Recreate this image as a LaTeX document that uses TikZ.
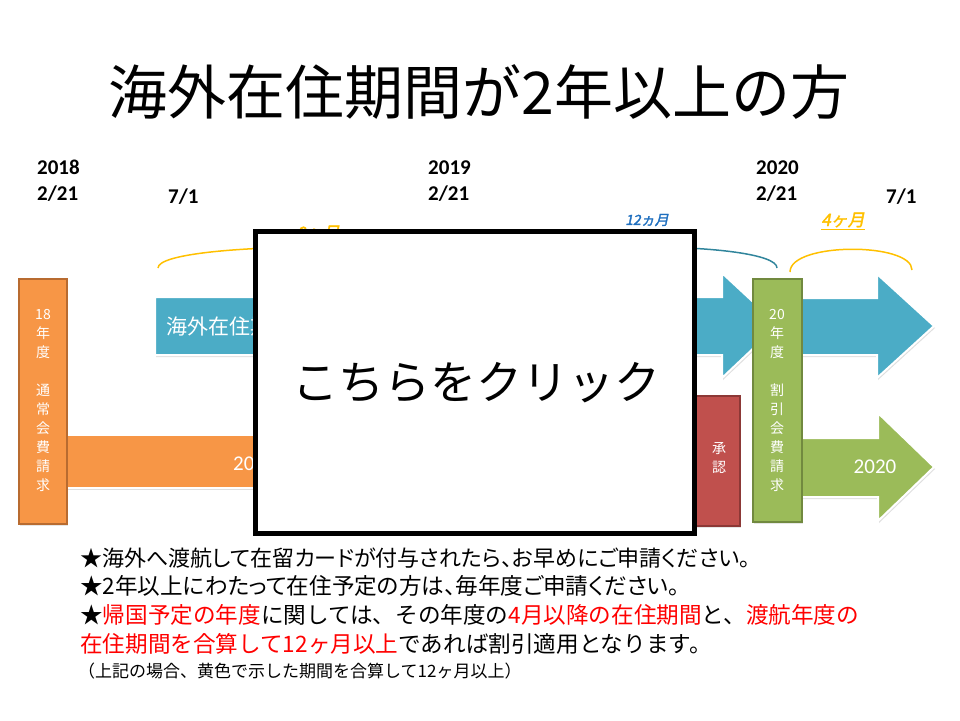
\documentclass[tikz,border=0pt]{standalone}
\usepackage{fontspec}
\usepackage{xcolor}
\usepackage{tikz}
\usetikzlibrary{shadows}
\setmainfont{Carlito}
\newfontfamily\jp[RawFeature=+palt]{Noto Sans CJK JP}
\newfontfamily\jpfix{Noto Sans CJK JP}
\newfontfamily\jpslant[FakeSlant=0.2,FakeBold=2]{Noto Sans CJK JP}
\definecolor{stayblue}{HTML}{4BACC6}
\definecolor{feeorange}{HTML}{F79646}
\definecolor{feeorangeline}{HTML}{B86B30}
\definecolor{feegreen}{HTML}{9BBB59}
\definecolor{feegreenline}{HTML}{71893F}
\definecolor{okred}{HTML}{C0504D}
\definecolor{okredline}{HTML}{8C3836}
\definecolor{spanyellow}{HTML}{FFC000}
\definecolor{spanblue}{HTML}{31859C}
\definecolor{spanbluetext}{HTML}{1F6FBF}
\definecolor{notered}{HTML}{FF0000}
\tikzset{
  datelabel/.style={anchor=base west, inner sep=0pt, font=\fontsize{21}{24}\selectfont\bfseries},
  fatarrow/.style={draw=white, line width=2pt, drop shadow={opacity=0.25,shadow xshift=1pt,shadow yshift=-2pt}},
  feebox/.style={line width=2pt, drop shadow={opacity=0.2,shadow xshift=1pt,shadow yshift=-2pt}},
  vtext/.style={text=white, align=center, inner sep=0pt, font=\jp\fontsize{14}{19}\selectfont},
  spanarc/.style={line width=1.5pt},
  note/.style={anchor=base west, inner sep=0pt, font=\jp\fontsize{22.6}{22.6}\selectfont},
  notefix/.style={note, font=\jpfix\fontsize{22.6}{22.6}\selectfont}
}
\begin{document}
\begin{tikzpicture}[x=1pt,y=-1pt]
\useasboundingbox (0,0) rectangle (960,720);

\node[font=\jpfix\fontsize{59}{59}\selectfont] (title) at (479,92) {海外在住期間が2年以上の方};

\node[datelabel] (y18) at (37,174) {2018};
\node[datelabel] (d18) at (37,200) {2/21};
\node[datelabel] (j18) at (168,203) {7/1};
\node[datelabel] (y19) at (428,174) {2019};
\node[datelabel] (d19) at (428,200) {2/21};
\node[datelabel] (y20) at (756,174) {2020};
\node[datelabel] (d20) at (756,200) {2/21};
\node[datelabel] (j20) at (886,203) {7/1};

\coordinate (ya) at (158,268);
\coordinate (yb) at (482,268);
\coordinate (ba) at (513,268);
\coordinate (bb) at (777,268);
\coordinate (za) at (790,272);
\coordinate (zb) at (912,270);
\draw[spanarc, spanyellow] (ya) .. controls (158,240) and (482,240) .. (yb);
\draw[spanarc, spanblue] (ba) .. controls (513,240) and (777,240) .. (bb);
\draw[spanarc, spanyellow] (za) .. controls (790,242) and (912,242) .. (zb);
\node[text=spanyellow, font=\jpslant\fontsize{17}{17}\selectfont] (m8) at (318,233) {8ヶ月};
\node[text=spanbluetext, font=\jpslant\fontsize{14}{14}\selectfont] (m12) at (647,220) {12ヵ月};
\node[text=spanyellow, font=\jpslant\fontsize{17}{17}\selectfont] (m4) at (843,221) {\underline{4ヶ月}};

\path[fatarrow, fill=stayblue] (155,297) -- (722,297) -- (722,273) -- (778,325) -- (722,378) -- (722,355) -- (155,355) -- cycle;
\node[anchor=west, text=white, inner sep=0pt, font=\jpfix\fontsize{21}{21}\selectfont] (stay) at (166,327) {海外在住期間};
\path[fatarrow, fill=stayblue] (790,298) -- (877,298) -- (877,274) -- (934,326) -- (877,378) -- (877,355) -- (790,355) -- cycle;
\path[fatarrow, fill=feeorange] (60,435) rectangle (330,488);
\node[anchor=west, text=white, inner sep=0pt, font=\fontsize{21}{21}\selectfont] (p18) at (233,463) {2018};
\path[fatarrow, fill=feegreen] (790,438) -- (878,438) -- (878,413) -- (934,467) -- (878,521) -- (878,497) -- (790,497) -- cycle;
\node[text=white, font=\fontsize{21}{21}\selectfont] (p20) at (875,467) {2020};

\path[feebox, draw=feeorangeline, fill=feeorange] (19,279) rectangle (67,524);
\node[vtext] (fee18) at (43,400) {18\\年\\度\\[19pt]通\\常\\会\\費\\請\\求};
\path[feebox, draw=okredline, fill=okred] (690,396) rectangle (740,526);
\node[vtext] (ok) at (719,458) {承\\認};
\path[feebox, draw=feegreenline, fill=feegreen] (753,279) rectangle (802,522);
\node[vtext] (fee20) at (777,400) {20\\年\\度\\[19pt]割\\引\\会\\費\\請\\求};

\draw[line width=5pt, fill=white] (255.5,231.5) rectangle (694.5,533.5);
\node[font=\jpfix\fontsize{46}{46}\selectfont] (click) at (476,383) {こちらをクリック};

\node[note, font=\jp\fontsize{22}{22}\selectfont] (n1) at (80,566) {★海外へ渡航して在留カードが付与されたら、お早めにご申請ください。};
\node[note] (n2) at (80,594) {★2年以上にわたって在住予定の方は、毎年度ご申請ください。};
\node[notefix] (n3) at (80,623) {★\textcolor{notered}{帰国予定の年度}に関しては、その年度の\textcolor{notered}{4月以降の在住期間}と、\textcolor{notered}{渡航年度の}};
\node[notefix] (n4) at (80,652) {\textcolor{notered}{在住期間を合算して12ヶ月以上}であれば割引適用となります。};
\node[note, font=\jpfix\fontsize{17}{17}\selectfont] (n5) at (78,677) {（上記の場合、黄色で示した期間を合算して12ヶ月以上）};
\end{tikzpicture}
\end{document}
